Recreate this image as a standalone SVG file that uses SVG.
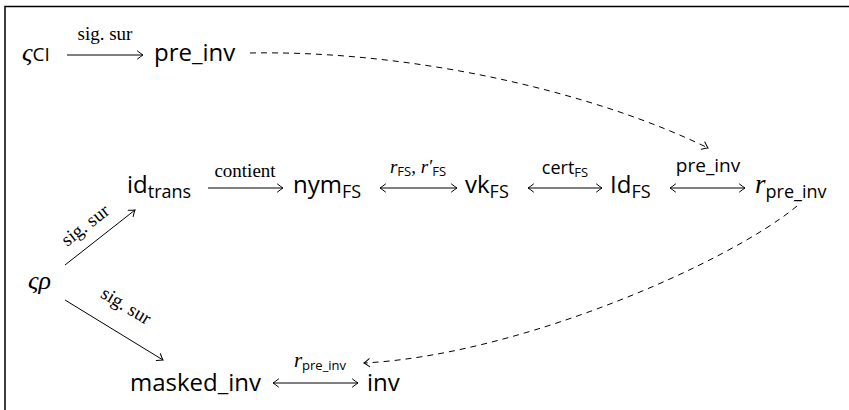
<svg xmlns="http://www.w3.org/2000/svg" width="849" height="410" viewBox="0 0 849 410">
  <style>
    .frame { fill: none; stroke: #000; stroke-width: 1.5; }
    .arr { fill: none; stroke: #000; stroke-width: 1; }
    .dash { fill: none; stroke: #000; stroke-width: 1; stroke-dasharray: 6 5; }
    .t { font-family: "Open Sans", "Noto Sans", sans-serif; font-size: 24px; fill: #000; }
    .sub { font-family: "Open Sans", "Noto Sans", sans-serif; font-size: 18px; }
    .lbl { font-family: "Liberation Serif", serif; font-size: 19px; fill: #000; }
    .lsans { font-family: "Open Sans", "Noto Sans", sans-serif; }
    .lsub { font-family: "Open Sans", "Noto Sans", sans-serif; font-size: 13px; }
    .it { font-family: "Liberation Serif", serif; font-style: italic; }
  </style>
  <defs>
    <marker id="head" viewBox="-8 -5 10 10" markerWidth="10" markerHeight="10" refX="0" refY="0" markerUnits="userSpaceOnUse" orient="auto-start-reverse">
      <path d="M-5.5,-4 Q-1.5,-0.8 0,0 Q-1.5,0.8 -5.5,4" fill="none" stroke="#000" stroke-width="1" stroke-linecap="round"/>
    </marker>
  </defs>

  <path class="frame" d="M5,410 V6.5 H849"/>

  <!-- nodes -->
  <g id="sigma-ci">
    <text class="t" x="22" y="61"><tspan class="it" font-size="26">ς</tspan><tspan font-size="19">CI</tspan></text>
  </g>
  <g id="pre-inv">
    <text class="t" x="154" y="61">pre_inv</text>
  </g>
  <g id="id-trans">
    <text class="t" x="127" y="193">id<tspan class="sub" dy="5">trans</tspan></text>
  </g>
  <g id="nym-fs">
    <text class="t" x="293" y="193">nym<tspan class="sub" dy="5">FS</tspan></text>
  </g>
  <g id="vk-fs">
    <text class="t" x="465" y="193">vk<tspan class="sub" dy="5">FS</tspan></text>
  </g>
  <g id="id-fs">
    <text class="t" x="610" y="193">Id<tspan class="sub" dy="5">FS</tspan></text>
  </g>
  <g id="r-pre-inv">
    <text class="t" x="755" y="193"><tspan class="it" font-size="27">r</tspan><tspan class="sub" dy="5">pre_inv</tspan></text>
  </g>
  <g id="sigma-rho">
    <text class="t" x="28" y="289"><tspan class="it" font-size="26">ςρ</tspan></text>
  </g>
  <g id="masked-inv">
    <text class="t" x="130" y="391">masked_inv</text>
  </g>
  <g id="inv">
    <text class="t" x="367" y="391">inv</text>
  </g>

  <!-- connectors -->
  <g id="connectors">
    <line class="arr" x1="67" y1="55" x2="143" y2="55" marker-end="url(#head)"/>
    <text class="lbl" x="105" y="40" text-anchor="middle">sig. sur</text>

    <line class="arr" x1="208" y1="188" x2="283" y2="188" marker-end="url(#head)"/>
    <text class="lbl" x="245" y="177" text-anchor="middle">contient</text>

    <line class="arr" x1="380" y1="188" x2="457" y2="188" marker-start="url(#head)" marker-end="url(#head)"/>
    <text class="lbl" x="418" y="173" text-anchor="middle"><tspan class="it">r</tspan><tspan class="lsub" dy="3">FS</tspan><tspan dy="-3">, </tspan><tspan class="it">r′</tspan><tspan class="lsub" dy="3">FS</tspan></text>

    <line class="arr" x1="528" y1="188" x2="602" y2="188" marker-start="url(#head)" marker-end="url(#head)"/>
    <text class="lbl" x="565" y="174" text-anchor="middle"><tspan class="lsans" font-size="18">cert</tspan><tspan class="lsub" dy="3">FS</tspan></text>

    <line class="arr" x1="670" y1="188" x2="745" y2="188" marker-start="url(#head)" marker-end="url(#head)"/>
    <text class="lbl lsans" x="708" y="172" text-anchor="middle" font-size="18">pre_inv</text>

    <line class="arr" x1="65" y1="265" x2="135" y2="210" marker-end="url(#head)"/>
    <text class="lbl" x="0" y="0" text-anchor="middle" transform="translate(89,230) rotate(-38)">sig. sur</text>

    <line class="arr" x1="65" y1="300" x2="163" y2="360" marker-end="url(#head)"/>
    <text class="lbl" x="0" y="0" text-anchor="middle" transform="translate(123,311) rotate(31.5)">sig. sur</text>

    <line class="arr" x1="273" y1="383" x2="358" y2="383" marker-start="url(#head)" marker-end="url(#head)"/>
    <text class="lbl" x="320" y="367" text-anchor="middle"><tspan class="it" font-size="21">r</tspan><tspan class="lsub" font-size="14" dy="3">pre_inv</tspan></text>

    <path class="dash" d="M250,53 C420,50 600,95 708,148" marker-end="url(#head)"/>
    <path class="dash" d="M797,206 C730,262 520,355 364,363" marker-end="url(#head)"/>
  </g>
</svg>
